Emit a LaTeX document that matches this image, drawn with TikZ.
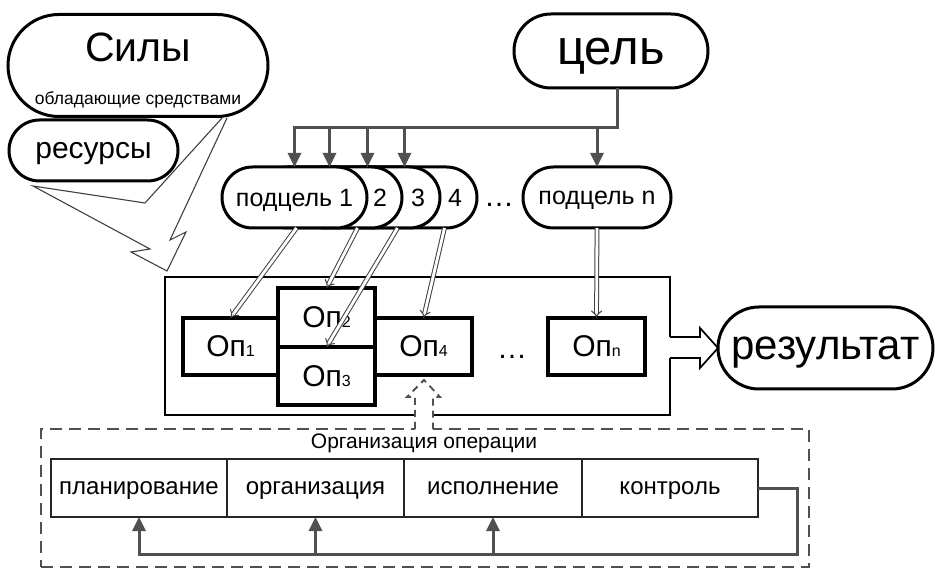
\documentclass[tikz,border=0pt]{standalone}
\usepackage{fontspec}
\setmainfont{Liberation Sans}
\usetikzlibrary{arrows.meta}
\definecolor{dg}{HTML}{505050}
\newcommand\opname[1]{Оп{\fontsize{16}{16}\selectfont #1}}
\newcommand\fs[1]{\fontsize{#1}{#1}\selectfont}
\begin{document}
\begin{tikzpicture}[x=1pt,y=-1pt,
  every node/.style={inner sep=0pt, outer sep=0pt},
  stad/.style={draw, line width=3pt, fill=white, rectangle, rounded corners=#1, text depth=0pt},
  opbox/.style={draw, line width=3.2pt, fill=white, rectangle, minimum width=97pt, minimum height=57pt, font=\fs{30}, text depth=0pt},
  cell/.style={draw=black!85, line width=2pt, rectangle, minimum height=58pt, font=\fs{24}, text depth=0pt},
  garrow/.style={draw=dg, line width=3pt, -{Triangle[length=14pt,width=13pt]}},
  dbl/.style={draw=black!75, double=white, double distance=2.8pt, line width=1pt, -{Implies[length=10pt,width=18pt]}},
  dashbox/.style={draw=dg, line width=2.4pt, dash pattern=on 12pt off 7pt},
  bolt/.style={draw=black!75, line width=1.1pt, line join=miter}
]
\useasboundingbox (0,0) rectangle (935,569);

% Forces and resources
\node[stad=51pt, minimum width=260pt, minimum height=102pt] (sily) at (138,65.5) {};
\node[font=\fs{41}] (silyT) at (138,47) {Силы};
\node[font=\fs{17.5}] (silyS) at (138,100) {обладающие средствами};
\node[stad=30.5pt, minimum width=169pt, minimum height=61pt, font=\fs{30}] (res) at (93.5,150.5) {ресурсы};
\draw[bolt] (222,118) -- (145,203) -- (33,186) -- (150,249) -- (131,252) -- (167,271) -- (186,232) -- (170,240) -- (227,118);

% Goal
\node[stad=37pt, minimum width=194pt, minimum height=74pt, font=\fs{49}] (cel) at (611,51) {цель};

% Sub-goals (back to front)
\node[stad=30.5pt, minimum width=145pt, minimum height=61pt] (sub4) at (404.5,197.5) {};
\node[stad=30.5pt, minimum width=145pt, minimum height=61pt] (sub3) at (367.5,197.5) {};
\node[stad=30.5pt, minimum width=145pt, minimum height=61pt] (sub2) at (329.5,197.5) {};
\node[stad=30.5pt, minimum width=145pt, minimum height=61pt, font=\fs{25}] (sub1) at (294.5,197.5) {подцель 1};
\node[font=\fs{25}, text depth=0pt] (t2) at (380,197.5) {2};
\node[font=\fs{25}, text depth=0pt] (t3) at (418,197.5) {3};
\node[font=\fs{25}, text depth=0pt] (t4) at (455,197.5) {4};
\node[font=\fs{30}] (dots1) at (499,205) {\dots};
\node[stad=30.5pt, minimum width=148pt, minimum height=61pt, font=\fs{25}] (subn) at (597,197.5) {подцель n};

% Goal -> sub-goals
\coordinate (cb) at (617,128);
\draw[garrow] (cb |- cel.south) -- (cb) -| (sub1.north);
\draw[garrow] (sub2.north |- cb) -- (sub2.north);
\draw[garrow] (sub3.north |- cb) -- (sub3.north);
\draw[garrow] (sub4.north |- cb) -- (sub4.north);
\draw[garrow] (subn.north |- cb) -- (subn.north);

% Operations frame
\node[draw, line width=1.7pt, rectangle, minimum width=505pt, minimum height=138pt] (ops) at (417.5,346) {};
\node[opbox, minimum width=95pt] (op1) at (230.5,346.5) {\opname{1}};
\node[opbox, minimum height=59pt] (op2) at (326.5,317.5) {\opname{2}};
\node[opbox, minimum height=58pt] (op3) at (326.5,376) {\opname{3}};
\node[opbox] (op4) at (423.5,346.5) {\opname{4}};
\node[font=\fs{30}] (dots2) at (512,357) {\dots};
\node[opbox] (opn) at (596.5,346.5) {\opname{n}};

% Sub-goals -> operations
\draw[dbl] ([xshift=2pt]sub1.south) -- (op1.north);
\draw[dbl] ([xshift=28pt]sub2.south) -- (op2.north);
\draw[dbl] ([xshift=30pt]sub3.south) -- (op3.north);
\draw[dbl] ([xshift=40pt]sub4.south) -- (op4.north);
\draw[dbl] (subn.south) -- (opn.north);

% Result
\node[stad=41pt, minimum width=215pt, minimum height=82pt, font=\fs{42}] (rez) at (825.5,348) {результат};
\fill[white] (668,337) rectangle (701,358);
\draw[line width=1.7pt, line join=miter] (ops.east |- 0,337) -- (700,337) -- (700,328) -- (rez.west) -- (700,368) -- (700,358) -- (ops.east |- 0,358);

% Organisation of the operation
\node[dashbox, rectangle, minimum width=768pt, minimum height=138pt] (org) at (425,498) {};
\fill[white] (415,397) -- (423,383) -- (433,397) -- (433,431) -- (415,431) -- cycle;
\draw[draw=dg, line width=1.8pt, dash pattern=on 7pt off 5pt, line join=miter]
  (415,429) -- (415,397) -- (407,397) -- (424,380) -- (440,397) -- (433,397) -- (433,429);
\node[font=\fs{21}] (orgT) at (424,443) {Организация операции};

\node[cell, minimum width=176pt] (plan) at (139,488) {планирование};
\node[cell, minimum width=177pt] (orgc) at (315.5,488) {организация};
\node[cell, minimum width=178pt] (isp) at (493,488) {исполнение};
\node[cell, minimum width=176pt] (kon) at (670,488) {контроль};

\coordinate (fbR) at (797,554);
\coordinate (fbL) at (139,554);
\draw[garrow] (kon.east) -| (fbR) -| (plan.south);
\draw[garrow] (fbL -| orgc.south) -- (orgc.south);
\draw[garrow] (fbL -| isp.south) -- (isp.south);
\end{tikzpicture}
\end{document}
